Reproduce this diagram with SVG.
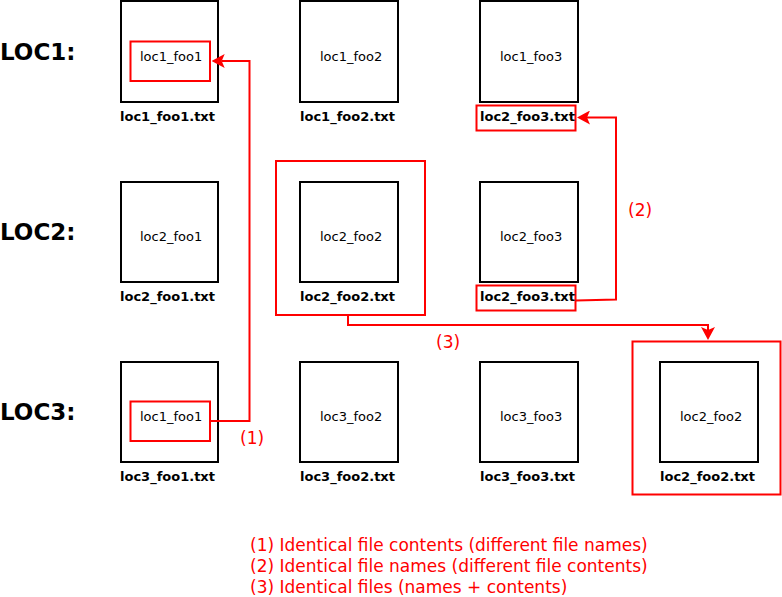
<svg xmlns="http://www.w3.org/2000/svg" width="782" height="597" viewBox="0 0 782 597">
<style>
text{font-family:"DejaVu Sans","Liberation Sans",sans-serif}
.box{fill:#fff;stroke:#000;stroke-width:2}
.in{font-size:13px;fill:#000}
.fn{font-size:13px;font-weight:bold;fill:#000}
.loc{font-size:23px;font-weight:bold;fill:#000}
.hl{fill:none;stroke:#f00;stroke-width:2}
.con{fill:none;stroke:#f00;stroke-width:2}
.lbl{font-size:17px;fill:#f00}
</style>
<defs>
<marker id="arr" markerUnits="userSpaceOnUse" viewBox="0 0 13 14" markerWidth="13" markerHeight="14" refX="3" refY="7" orient="auto">
<path d="M0,0 L13,7 L0,14 L3,7 Z" fill="#f00"/>
</marker>
</defs>
<rect width="782" height="597" fill="#fff"/>
<g id="loc-labels">
<text class="loc" x="0" y="60">LOC1:</text>
<text class="loc" x="0" y="240">LOC2:</text>
<text class="loc" x="0" y="420">LOC3:</text>
</g>
<g id="loc1_foo1"><rect class="box" x="121" y="1" width="97" height="101"/><rect class="hl" x="130.5" y="41.5" width="79.5" height="39.5"/><text class="in" x="140" y="61">loc1_foo1</text><text class="fn" x="120" y="121">loc1_foo1.txt</text></g>
<g id="loc1_foo2"><rect class="box" x="300" y="1" width="98" height="101"/><text class="in" x="320" y="61">loc1_foo2</text><text class="fn" x="300" y="121">loc1_foo2.txt</text></g>
<g id="loc1_foo3"><rect class="box" x="480" y="1" width="98" height="101"/><text class="in" x="500" y="61">loc1_foo3</text><rect class="hl" x="476.5" y="105.5" width="99" height="25"/><text class="fn" x="480" y="121">loc2_foo3.txt</text></g>
<g id="loc2_foo1"><rect class="box" x="121" y="182" width="97" height="100"/><text class="in" x="140" y="241">loc2_foo1</text><text class="fn" x="120" y="301">loc2_foo1.txt</text></g>
<g id="loc2_foo2"><rect class="hl" x="276" y="161" width="149" height="154"/><rect class="box" x="300" y="182" width="98" height="100"/><text class="in" x="320" y="241">loc2_foo2</text><text class="fn" x="300" y="301">loc2_foo2.txt</text></g>
<g id="loc2_foo3"><rect class="box" x="480" y="182" width="98" height="100"/><text class="in" x="500" y="241">loc2_foo3</text><rect class="hl" x="476.5" y="285.5" width="99" height="25"/><text class="fn" x="480" y="301">loc2_foo3.txt</text></g>
<g id="loc3_foo1"><rect class="box" x="121" y="362" width="97" height="100"/><rect class="hl" x="130.5" y="401.5" width="79.5" height="39.5"/><text class="in" x="140" y="421">loc1_foo1</text><text class="fn" x="120" y="481">loc3_foo1.txt</text></g>
<g id="loc3_foo2"><rect class="box" x="300" y="362" width="98" height="100"/><text class="in" x="320" y="421">loc3_foo2</text><text class="fn" x="300" y="481">loc3_foo2.txt</text></g>
<g id="loc3_foo3"><rect class="box" x="480" y="362" width="98" height="100"/><text class="in" x="500" y="421">loc3_foo3</text><text class="fn" x="480" y="481">loc3_foo3.txt</text></g>
<g id="loc3_copy"><rect class="hl" x="632.5" y="341.5" width="148" height="153"/><rect class="box" x="660" y="362" width="98" height="100"/><text class="in" x="680" y="421">loc2_foo2</text><text class="fn" x="660" y="481">loc2_foo2.txt</text></g>
<g id="connectors">
<path class="con" d="M210,421 L249.5,421 L249.5,61 L221.7,61" marker-end="url(#arr)"/>
<path class="con" d="M576,300.5 L616,299.5 L616,117.5 L587,117.5" marker-end="url(#arr)"/>
<path class="con" d="M348,316 L348,325 L708,325 L708,330" marker-end="url(#arr)"/>
<text class="lbl" x="240" y="444">(1)</text>
<text class="lbl" x="628" y="216">(2)</text>
<text class="lbl" x="436" y="348">(3)</text>
</g>
<g id="legend">
<text class="lbl" x="250" y="551">(1) Identical file contents (different file names)</text>
<text class="lbl" x="250" y="572">(2) Identical file names (different file contents)</text>
<text class="lbl" x="250" y="593">(3) Identical files (names + contents)</text>
</g>
</svg>
